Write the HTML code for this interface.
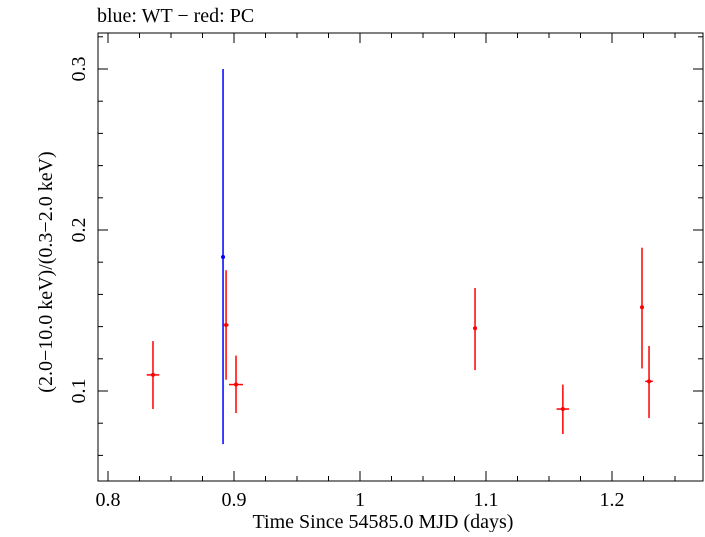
<!DOCTYPE html>
<html><head><meta charset="utf-8"><style>
body{margin:0;background:#fff}
svg text{font-family:"Liberation Serif",serif;fill:#000}
</style></head><body>
<svg id="c" width="705" height="532">
<text x="97" y="22" font-size="20">blue: WT − red: PC</text>
<rect x="98" y="33" width="605" height="448" fill="none" stroke="#000" stroke-width="1"/>
<text x="383" y="528" font-size="20" text-anchor="middle">Time Since 54585.0 MJD (days)</text>
<text transform="translate(52,272) rotate(-90)" font-size="20" text-anchor="middle">(2.0−10.0 keV)/(0.3−2.0 keV)</text>
<g id="axes"></g><g id="marks"></g>
</svg>
<script>
const xTicks=[0.8,0.9,1.0,1.1,1.2];
const xTickLabels=["0.8","0.9","1","1.1","1.2"];
const yTicks=[0.1,0.2,0.3];
const yTickLabels=["0.1","0.2","0.3"];
const wtTime=[0.8913];
const wtRatio=[0.1832];
const wtErrLo=[0.067];
const wtErrHi=[0.300];
const wtTimeErr=[0.0005];
const pcTime=[0.8357,0.8937,0.9016,1.0913,1.161,1.2238,1.2294];
const pcRatio=[0.110,0.141,0.104,0.139,0.0888,0.152,0.106];
const pcErrLo=[0.0888,0.107,0.0863,0.113,0.0733,0.114,0.0832];
const pcErrHi=[0.131,0.175,0.122,0.164,0.104,0.189,0.128];
const pcTimeErr=[0.005,0.002,0.0055,0.0015,0.005,0.0015,0.003];
const X=v=>108+(v-0.8)*1260;
const Y=v=>391-(v-0.1)*1610;
const NS="http://www.w3.org/2000/svg";
const ax=document.getElementById('axes'),mk=document.getElementById('marks');
function ln(p,x1,y1,x2,y2,c,w){const l=document.createElementNS(NS,'line');l.setAttribute('x1',x1);l.setAttribute('y1',y1);l.setAttribute('x2',x2);l.setAttribute('y2',y2);l.setAttribute('stroke',c);l.setAttribute('stroke-width',w);p.appendChild(l);return l;}
for(let v=0.8;v<1.2751;v+=0.025){const x=X(v);const maj=Math.abs(v*10-Math.round(v*10))<1e-6;const L=maj?10:5;
let t=ln(ax,x,481,x,481-L,'#000',1);
t=ln(ax,x,33,x,33+L,'#000',1);}
xTicks.forEach((v,i)=>{const t=document.createElementNS(NS,'text');t.setAttribute('x',X(v));t.setAttribute('y',506);t.setAttribute('font-size','20');t.setAttribute('text-anchor','middle');t.textContent=xTickLabels[i];

ax.appendChild(t);});
for(let v=0.06;v<0.3251;v+=0.02){const y=Y(v);if(y<33||y>481)continue;const maj=Math.abs(v*10-Math.round(v*10))<1e-6;const L=maj?10:5;
let t=ln(ax,98,y,98+L,y,'#000',1);
t=ln(ax,703,y,703-L,y,'#000',1);}
yTicks.forEach((v,i)=>{const t=document.createElementNS(NS,'text');t.setAttribute('transform',`translate(85,${Y(v)}) rotate(-90)`);t.setAttribute('font-size','20');t.setAttribute('text-anchor','middle');t.textContent=yTickLabels[i];

ax.appendChild(t);});
function series(T,R,Lo,Hi,TE,col,name){T.forEach((t,i)=>{const g=document.createElementNS(NS,'g');


ln(g,X(t),Y(Lo[i]),X(t),Y(Hi[i]),col,1.5);ln(g,X(t-TE[i]),Y(R[i]),X(t+TE[i]),Y(R[i]),col,1.5);
const c=document.createElementNS(NS,'circle');c.setAttribute('cx',X(t));c.setAttribute('cy',Y(R[i]));c.setAttribute('r',2);c.setAttribute('fill',col);g.appendChild(c);mk.appendChild(g);});}
series(wtTime,wtRatio,wtErrLo,wtErrHi,wtTimeErr,'#0000ff','wt');
series(pcTime,pcRatio,pcErrLo,pcErrHi,pcTimeErr,'#ff0000','pc');
</script>
</body></html>
